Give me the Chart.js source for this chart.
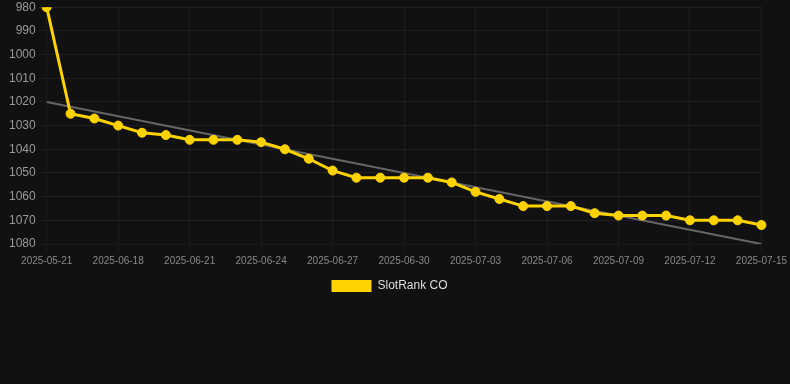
<!DOCTYPE html>
<html>
<head>
<meta charset="utf-8">
<script src="https://cdn.jsdelivr.net/npm/chart.js@4"></script>
<style>
  html, body { margin: 0; padding: 0; background: #111111; overflow: hidden; }
  #wrap { position: relative; top: -3px; width: 790px; height: 387px; }
</style>
</head>
<body>
<div id="wrap"><canvas id="chart"></canvas></div>
<script>
const labels = [
  "2025-05-21", "2025-06-16", "2025-06-17", "2025-06-18", "2025-06-19", "2025-06-20",
  "2025-06-21", "2025-06-22", "2025-06-23", "2025-06-24", "2025-06-25", "2025-06-26",
  "2025-06-27", "2025-06-28", "2025-06-29", "2025-06-30", "2025-07-01", "2025-07-02",
  "2025-07-03", "2025-07-04", "2025-07-05", "2025-07-06", "2025-07-07", "2025-07-08",
  "2025-07-09", "2025-07-10", "2025-07-11", "2025-07-12", "2025-07-13", "2025-07-14",
  "2025-07-15"
];
const rankValues = [
  980, 1025, 1027, 1030, 1033, 1034,
  1036, 1036, 1036, 1037, 1040, 1044,
  1049, 1052, 1052, 1052, 1052, 1054,
  1058, 1061, 1064, 1064, 1064, 1067,
  1068, 1068, 1068, 1070, 1070, 1070,
  1072
];
// trend line: only start and end known
const trendValues = labels.map(() => null);
trendValues[0] = 1020;
trendValues[labels.length - 1] = 1080;

const yMin = 980;
const yMax = 1080;

new Chart(document.getElementById("chart"), {
  type: "line",
  data: {
    labels: labels,
    datasets: [
      {
        label: "SlotRank CO",
        data: rankValues,
        borderColor: "#FFD300",
        backgroundColor: "#FFD300",
        borderWidth: 3,
        pointRadius: 4.5,
        pointBorderWidth: 1,
        pointHoverRadius: 4.5,
        tension: 0,
        order: 1
      },
      {
        label: "trend",
        data: trendValues,
        borderColor: "#666666",
        borderWidth: 2,
        pointRadius: 0,
        spanGaps: true,
        order: 2
      }
    ]
  },
  options: {
    responsive: true,
    maintainAspectRatio: false,
    animation: false,
    layout: { padding: { top: 0, bottom: 82, right: 17, left: 6 } },
    plugins: {
      legend: {
        position: "bottom",
        labels: {
          color: "#dddddd",
          boxWidth: 40,
          boxHeight: 12,
          font: { size: 12 },
          generateLabels: (chart) => {
            const items = Chart.defaults.plugins.legend.labels.generateLabels(chart);
            return items.filter((i) => i.text !== "trend").map((i) => ({ ...i, lineWidth: 0 }));
          }
        }
      },
      tooltip: { enabled: false }
    },
    scales: {
      x: {
        grid: { color: "rgba(255,255,255,0.05)" },
        ticks: { color: "#888888", font: { size: 10 }, maxRotation: 0, autoSkip: true, maxTicksLimit: 11 }
      },
      y: {
        reverse: true,
        min: yMin,
        max: yMax,
        grid: { color: "rgba(255,255,255,0.06)" },
        ticks: { color: "#999999", font: { size: 12 }, stepSize: 10, callback: (v) => String(v) }
      }
    }
  }
});
</script>
</body>
</html>
